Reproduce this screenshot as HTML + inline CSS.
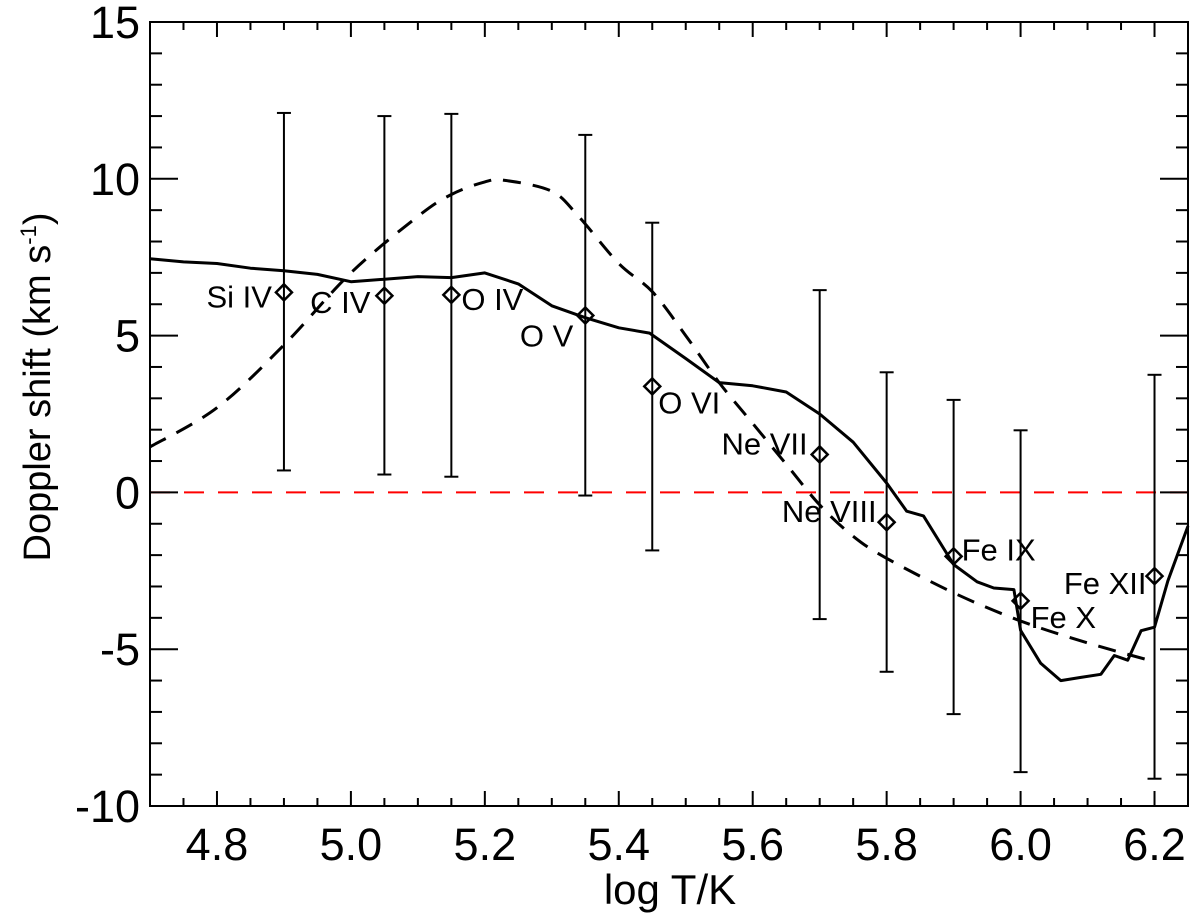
<!DOCTYPE html>
<html><head><meta charset="utf-8"><style>
html,body{margin:0;padding:0;background:#fff;}
svg{display:block;font-family:"Liberation Sans",Helvetica,Arial,sans-serif;}
</style></head><body>
<svg id="chart" width="1200" height="913" viewBox="0 0 1200 913">
<g id="plot"></g>
</svg>
<script>
const ionNames=["Si IV","C IV","O IV","O V","O VI","Ne VII","Ne VIII","Fe IX","Fe X","Fe XII"];
const ionLogT=[4.9,5.05,5.15,5.35,5.45,5.7,5.8,5.9,6.0,6.2];
const ionShift=[6.38,6.27,6.3,5.64,3.38,1.21,-0.95,-2.04,-3.46,-2.67];
const ionErrHi=[12.1,12.0,12.07,11.4,8.6,6.45,3.83,2.95,1.98,3.75];
const ionErrLo=[0.7,0.57,0.5,-0.1,-1.85,-4.04,-5.72,-7.07,-8.92,-9.13];
const labelDx=[-12,-14,10,-12,6,-12,-10,8,10,-8];
const labelDy=[15,17,15,31,27,0,0,4,27,18];
const labelAnchor=["end","end","start","end","start","end","end","start","start","end"];
const solidT=[4.7,4.75,4.8,4.85,4.9,4.95,5.0,5.05,5.1,5.15,5.2,5.25,5.3,5.35,5.4,5.446,5.5,5.55,5.6,5.65,5.7,5.75,5.8,5.83,5.855,5.9,5.935,5.96,5.99,6.0,6.03,6.06,6.09,6.12,6.14,6.16,6.18,6.2,6.22,6.25];
const solidV=[7.45,7.35,7.3,7.15,7.07,6.95,6.72,6.8,6.88,6.85,7.0,6.65,5.95,5.57,5.25,5.08,4.27,3.5,3.4,3.2,2.5,1.6,0.3,-0.6,-0.75,-2.3,-2.85,-3.05,-3.1,-4.4,-5.45,-6.0,-5.9,-5.8,-5.2,-5.35,-4.41,-4.3,-2.82,-1.07];
const dashT=[4.7,4.8,4.9,5.0,5.1,5.15,5.2,5.23,5.3,5.34,5.4,5.45,5.5,5.55,5.6,5.65,5.7,5.75,5.8,5.9,6.0,6.1,6.2];
const dashV=[1.45,2.7,4.7,7.0,8.8,9.5,9.9,9.95,9.6,8.8,7.3,6.4,5.0,3.5,2.2,0.9,-0.4,-1.4,-2.1,-3.2,-4.1,-4.8,-5.4];
const xTicks=[4.8,5.0,5.2,5.4,5.6,5.8,6.0,6.2];
const xTickLabels=["4.8","5.0","5.2","5.4","5.6","5.8","6.0","6.2"];
const yTicks=[-10,-5,0,5,10,15];
const yTickLabels=["-10","-5","0","5","10","15"];

const X0=150,X1=1188,Y0=806,Y1=22;
const xMin=4.7,xMax=6.25,yMin=-10,yMax=15;
const sx=v=>X0+(v-xMin)/(xMax-xMin)*(X1-X0);
const sy=v=>Y0-(v-yMin)/(yMax-yMin)*(Y0-Y1);
const NS="http://www.w3.org/2000/svg";
const g=document.getElementById('plot');
function el(tag,attrs,parent){const e=document.createElementNS(NS,tag);for(const k in attrs)e.setAttribute(k,attrs[k]);(parent||g).appendChild(e);return e;}
function smoothPath(ts,vs){
  const p=ts.map((t,i)=>[sx(t),sy(vs[i])]);
  let d='M'+p[0][0].toFixed(1)+','+p[0][1].toFixed(1);
  for(let i=0;i<p.length-1;i++){
    const p0=p[Math.max(0,i-1)],p1=p[i],p2=p[i+1],p3=p[Math.min(p.length-1,i+2)];
    const c1=[p1[0]+(p2[0]-p0[0])/6,p1[1]+(p2[1]-p0[1])/6];
    const c2=[p2[0]-(p3[0]-p1[0])/6,p2[1]-(p3[1]-p1[1])/6];
    d+='C'+c1.map(v=>v.toFixed(1)).join(',')+' '+c2.map(v=>v.toFixed(1)).join(',')+' '+p2[0].toFixed(1)+','+p2[1].toFixed(1);
  }
  return d;
}

const zl=el('line',{x1:X0,x2:X1,y1:sy(0),y2:sy(0),stroke:'#ff0000','stroke-width':2,'stroke-dasharray':'20 14'});



const dp=el('path',{d:smoothPath(dashT,dashV),fill:'none',stroke:'#000','stroke-width':3,'stroke-dasharray':'18 12'});



const sp=el('path',{d:solidT.map((t,i)=>(i?'L':'M')+sx(t).toFixed(1)+','+sy(solidV[i]).toFixed(1)).join(''),fill:'none',stroke:'#000','stroke-width':3,'stroke-linejoin':'round'});



ionNames.forEach((n,i)=>{
  const x=sx(ionLogT[i]),y=sy(ionShift[i]);
  const gg=el('g',{});
  
  
  el('line',{x1:x,x2:x,y1:sy(ionErrHi[i]),y2:sy(ionErrLo[i]),stroke:'#000','stroke-width':2},gg);
  el('line',{x1:x-7,x2:x+7,y1:sy(ionErrHi[i]),y2:sy(ionErrHi[i]),stroke:'#000','stroke-width':2},gg);
  el('line',{x1:x-7,x2:x+7,y1:sy(ionErrLo[i]),y2:sy(ionErrLo[i]),stroke:'#000','stroke-width':2},gg);
  el('path',{d:`M${x-8},${y}L${x},${y-8}L${x+8},${y}L${x},${y+8}Z`,fill:'none',stroke:'#000','stroke-width':2.5},gg);
  const t=el('text',{x:x+labelDx[i],y:y+labelDy[i],'font-size':31,'text-anchor':labelAnchor[i],fill:'#000'},gg);
  t.textContent=n;
});

const fr=el('rect',{x:X0,y:Y1,width:X1-X0,height:Y0-Y1,fill:'none',stroke:'#000','stroke-width':2});



for(let v=4.75;v<6.25+1e-9;v+=0.05){
  const major=xTicks.some(t=>Math.abs(t-v)<1e-6);
  const L=major?15:8,x=sx(v);
  el('line',{x1:x,x2:x,y1:Y0,y2:Y0-L,stroke:'#000','stroke-width':2});
  el('line',{x1:x,x2:x,y1:Y1,y2:Y1+L,stroke:'#000','stroke-width':2});
}
xTicks.forEach((v,i)=>{
  const t=el('text',{x:sx(v),y:860,'font-size':45,'text-anchor':'middle',fill:'#000'});
  
  
  t.textContent=xTickLabels[i];
});
for(let v=-9;v<15;v+=1){
  const major=v%5===0,L=major?28:12,y=sy(v);
  el('line',{x1:X0,x2:X0+L,y1:y,y2:y,stroke:'#000','stroke-width':2});
  el('line',{x1:X1,x2:X1-L,y1:y,y2:y,stroke:'#000','stroke-width':2});
}
yTicks.forEach((v,i)=>{
  const t=el('text',{x:140,y:sy(v)+16,'font-size':45,'text-anchor':'end',fill:'#000'});
  
  
  t.textContent=yTickLabels[i];
});
const xt=el('text',{x:670,y:904,'font-size':42,'text-anchor':'middle',fill:'#000'});


xt.textContent='log T/K';
const yt=el('text',{x:0,y:0,'font-size':38,'text-anchor':'middle',fill:'#000',transform:'translate(50,387) rotate(-90)'});


yt.innerHTML='Doppler shift (km s<tspan dy="-14" font-size="22">-1</tspan><tspan dy="14">)</tspan>';
</script>
</body></html>
